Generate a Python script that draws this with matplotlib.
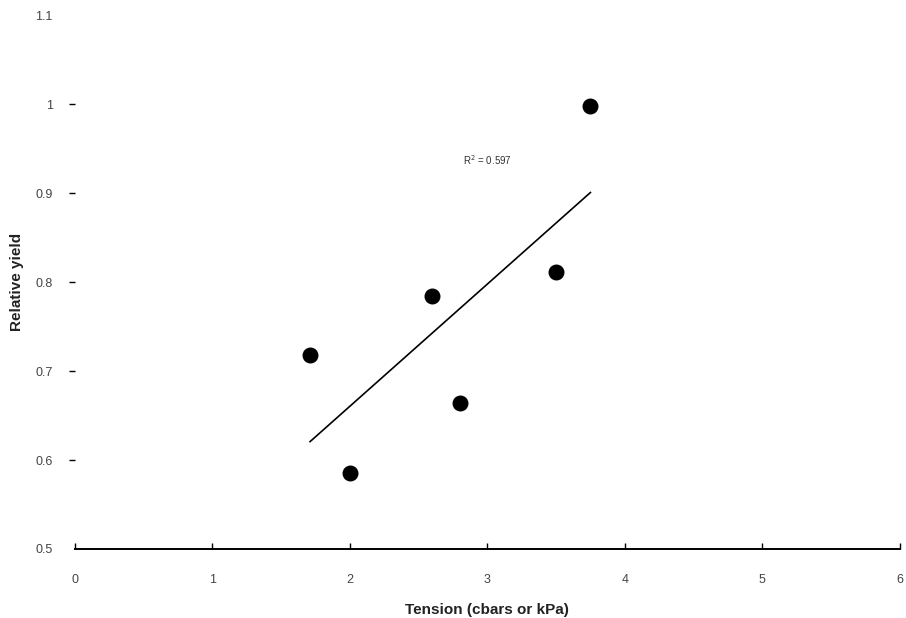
import numpy as np
import matplotlib
matplotlib.use('Agg')
import matplotlib.pyplot as plt

# data
tension = [1.71, 2.0, 2.6, 2.8, 3.5, 3.75]
rel_yield = [0.718, 0.585, 0.785, 0.664, 0.812, 0.998]
r2_label = 'R$^2$ = 0.597'
x_ticks = [0, 1, 2, 3, 4, 5, 6]
y_ticks = [0.5, 0.6, 0.7, 0.8, 0.9, 1.0, 1.1]
y_tick_labels = ['0.5', '0.6', '0.7', '0.8', '0.9', '1', '1.1']

plt.rcParams['font.family'] = ['Liberation Sans', 'DejaVu Sans']

fig = plt.figure(figsize=(9.06, 6.18), dpi=100)
ax = fig.add_axes([0.0828, 0.1117, 0.9102, 0.8633])

ax.scatter(tension, rel_yield, s=110, color='black', zorder=3)

# linear trend line over the data range
slope, intercept = np.polyfit(tension, rel_yield, 1)
xs = np.array([min(tension), max(tension)])
ax.plot(xs, slope * xs + intercept, color='black', linewidth=1.2)

ax.text(3.0, 0.9375, r2_label, ha='center', va='center', fontsize=7, color='#333333')

ax.set_xlim(0, 6)
ax.set_ylim(0.5, 1.1)
ax.set_xticks(x_ticks)
ax.set_yticks(y_ticks)
ax.set_yticklabels(y_tick_labels)

for side in ['top', 'right', 'left']:
    ax.spines[side].set_visible(False)
ax.spines['bottom'].set_linewidth(1.4)

ax.tick_params(axis='x', direction='in', length=4, width=1, labelsize=9,
               labelcolor='#444444', pad=18)
ax.tick_params(axis='y', direction='out', length=4, width=1, labelsize=9,
               labelcolor='#444444', pad=12)

# no dash at the ends of the y axis
yt = ax.yaxis.get_major_ticks()
yt[0].tick1line.set_visible(False)
yt[-1].tick1line.set_visible(False)

ax.set_xlabel('Tension (cbars or kPa)', fontsize=11, fontweight='bold', color='#222222', labelpad=12)
ax.set_ylabel('Relative yield', fontsize=11, fontweight='bold', color='#222222', labelpad=8)

fig.savefig('out.png', dpi=100)
